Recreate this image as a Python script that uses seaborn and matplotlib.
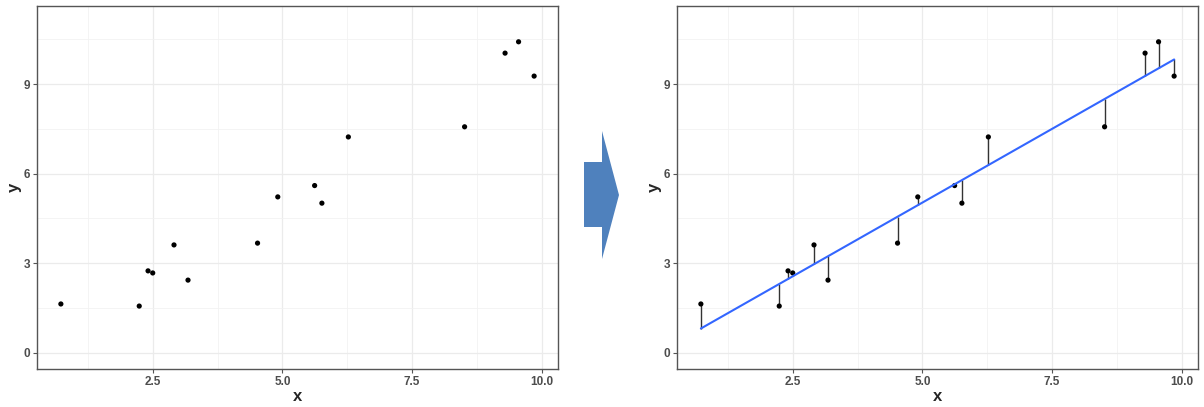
import numpy as np
import pandas as pd
import matplotlib
matplotlib.use("Agg")
import matplotlib.pyplot as plt
import seaborn as sns
from matplotlib.patches import Polygon
from matplotlib.ticker import MultipleLocator

# data
x_vals = [0.73, 2.24, 2.41, 2.50, 2.91, 3.18, 4.52, 4.91, 5.62, 5.76, 6.27, 8.51, 9.29, 9.55, 9.85]
y_vals = [1.63, 1.56, 2.74, 2.67, 3.61, 2.43, 3.67, 5.22, 5.60, 5.01, 7.23, 7.57, 10.04, 10.42, 9.27]
x_ticks = [2.5, 5.0, 7.5, 10.0]
y_ticks = [0, 3, 6, 9]

df = pd.DataFrame({"x": x_vals, "y": y_vals})
slope, intercept = np.polyfit(df["x"], df["y"], 1)
df["fit"] = intercept + slope * df["x"]

sns.set_theme(style="white")
plt.rcParams["font.family"] = ["Liberation Sans", "DejaVu Sans"]

fig = plt.figure(figsize=(12.04, 4.07), dpi=100)
ax1 = fig.add_axes([37 / 1204, 38 / 407, 521 / 1204, 363 / 407])
ax2 = fig.add_axes([677 / 1204, 38 / 407, 521 / 1204, 363 / 407])


def style_axes(ax):
    ax.set_xlim(0.27, 10.31)
    ax.set_ylim(-0.55, 11.62)
    ax.set_xticks(x_ticks)
    ax.set_xticklabels(["2.5", "5.0", "7.5", "10.0"])
    ax.set_yticks(y_ticks)
    ax.xaxis.set_minor_locator(MultipleLocator(1.25))
    ax.yaxis.set_minor_locator(MultipleLocator(1.5))
    ax.grid(True, which="major", color="#ebebeb", linewidth=0.9)
    ax.grid(True, which="minor", color="#f2f2f2", linewidth=0.6)
    ax.set_axisbelow(True)
    for s in ax.spines.values():
        s.set_color("#555555")
        s.set_linewidth(1.0)
    ax.tick_params(axis="both", which="major", length=3, width=0.8, color="#555555",
                   labelsize=8.5, labelcolor="#4d4d4d", pad=2, bottom=True, left=True)
    ax.tick_params(axis="both", which="minor", length=0)
    for lab in ax.get_xticklabels() + ax.get_yticklabels():
        lab.set_fontweight("bold")
    ax.set_xlabel("x", fontsize=12, fontweight="bold", labelpad=1)
    ax.set_ylabel("y", fontsize=12, fontweight="bold", labelpad=1)


# left: raw points
sns.scatterplot(data=df, x="x", y="y", ax=ax1, color="black", s=14, edgecolor="none")
style_axes(ax1)

# right: points, residual segments and fitted line
ax2.vlines(df["x"], df["fit"], df["y"], color="#333333", linewidth=1.0, zorder=2)
sns.regplot(data=df, x="x", y="y", ax=ax2, ci=None, truncate=True,
            scatter_kws={"color": "black", "s": 14, "edgecolor": "none",
                         "alpha": 1.0, "zorder": 3},
            line_kws={"color": "#3366ff", "linewidth": 1.5, "zorder": 4})
style_axes(ax2)

# arrow between the panels
arrow_px = [(584, 162), (602, 162), (602, 131), (619, 195), (602, 259), (602, 227), (584, 227)]
arrow_pts = [(px / 1204, 1 - py / 407) for px, py in arrow_px]
fig.patches.append(Polygon(arrow_pts, closed=True, transform=fig.transFigure,
                           facecolor="#4f81bd", edgecolor="none"))

fig.savefig("out.png", dpi=100)
